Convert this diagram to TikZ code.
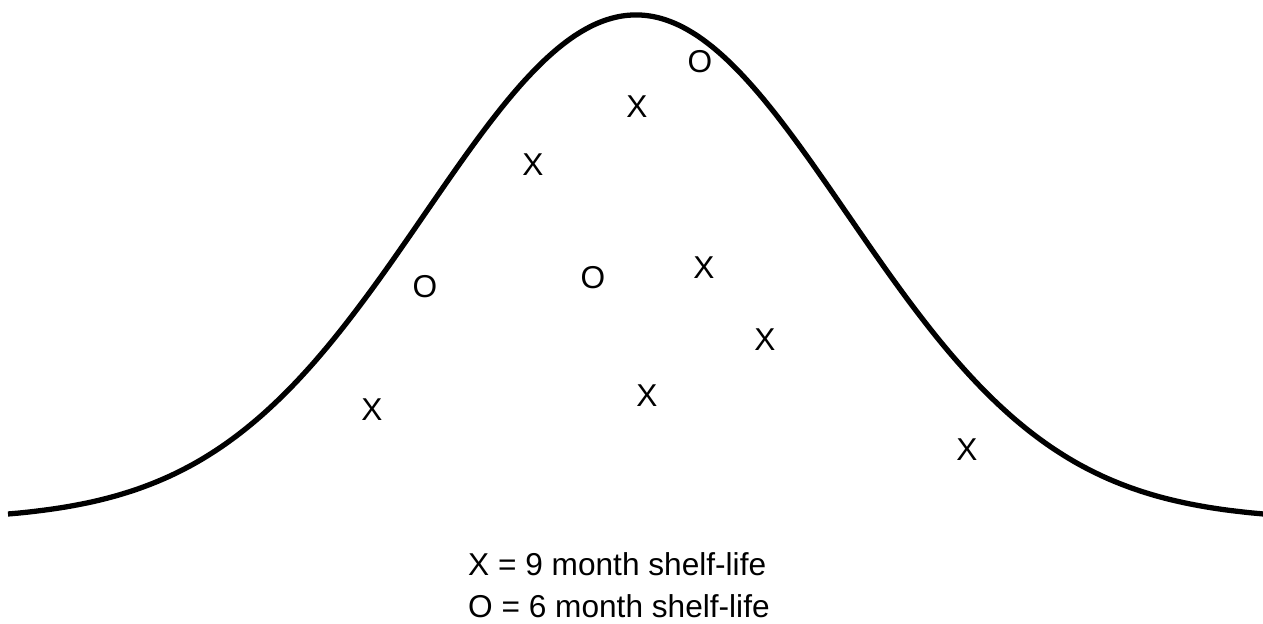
\documentclass[tikz,border=0pt]{standalone}
\usepackage{fontspec}
\setmainfont{Liberation Sans}
\usepackage{xcolor}

\begin{document}
\begin{tikzpicture}[x=0.02cm,y=-0.02cm,font=\fontsize{18}{20}\selectfont,
    marker/.style={inner sep=0pt}]
  \useasboundingbox (0,0) rectangle (1263,623);
  % bell curve
  \draw[line width=3pt,line join=round]
    plot[domain=8:1263,samples=220,smooth]
    ({\x},{520-505*exp(-0.5*((\x-636)/211)*((\x-636)/211))});
  \foreach \x/\y/\t [count=\i] in {700/62/O,637/107/X,533/165/X,425/287/O,
      593/278/O,704/268/X,765/340/X,372/410/X,647/396/X,967/450/X} {
    \node[marker] (m\i) at (\x,\y) {\t};
  }
  \node[anchor=west] (leg1) at (462,564) {X = 9 month shelf-life};
  \node[anchor=west] (leg2) at (462,606) {O = 6 month shelf-life};
\end{tikzpicture}
\end{document}
